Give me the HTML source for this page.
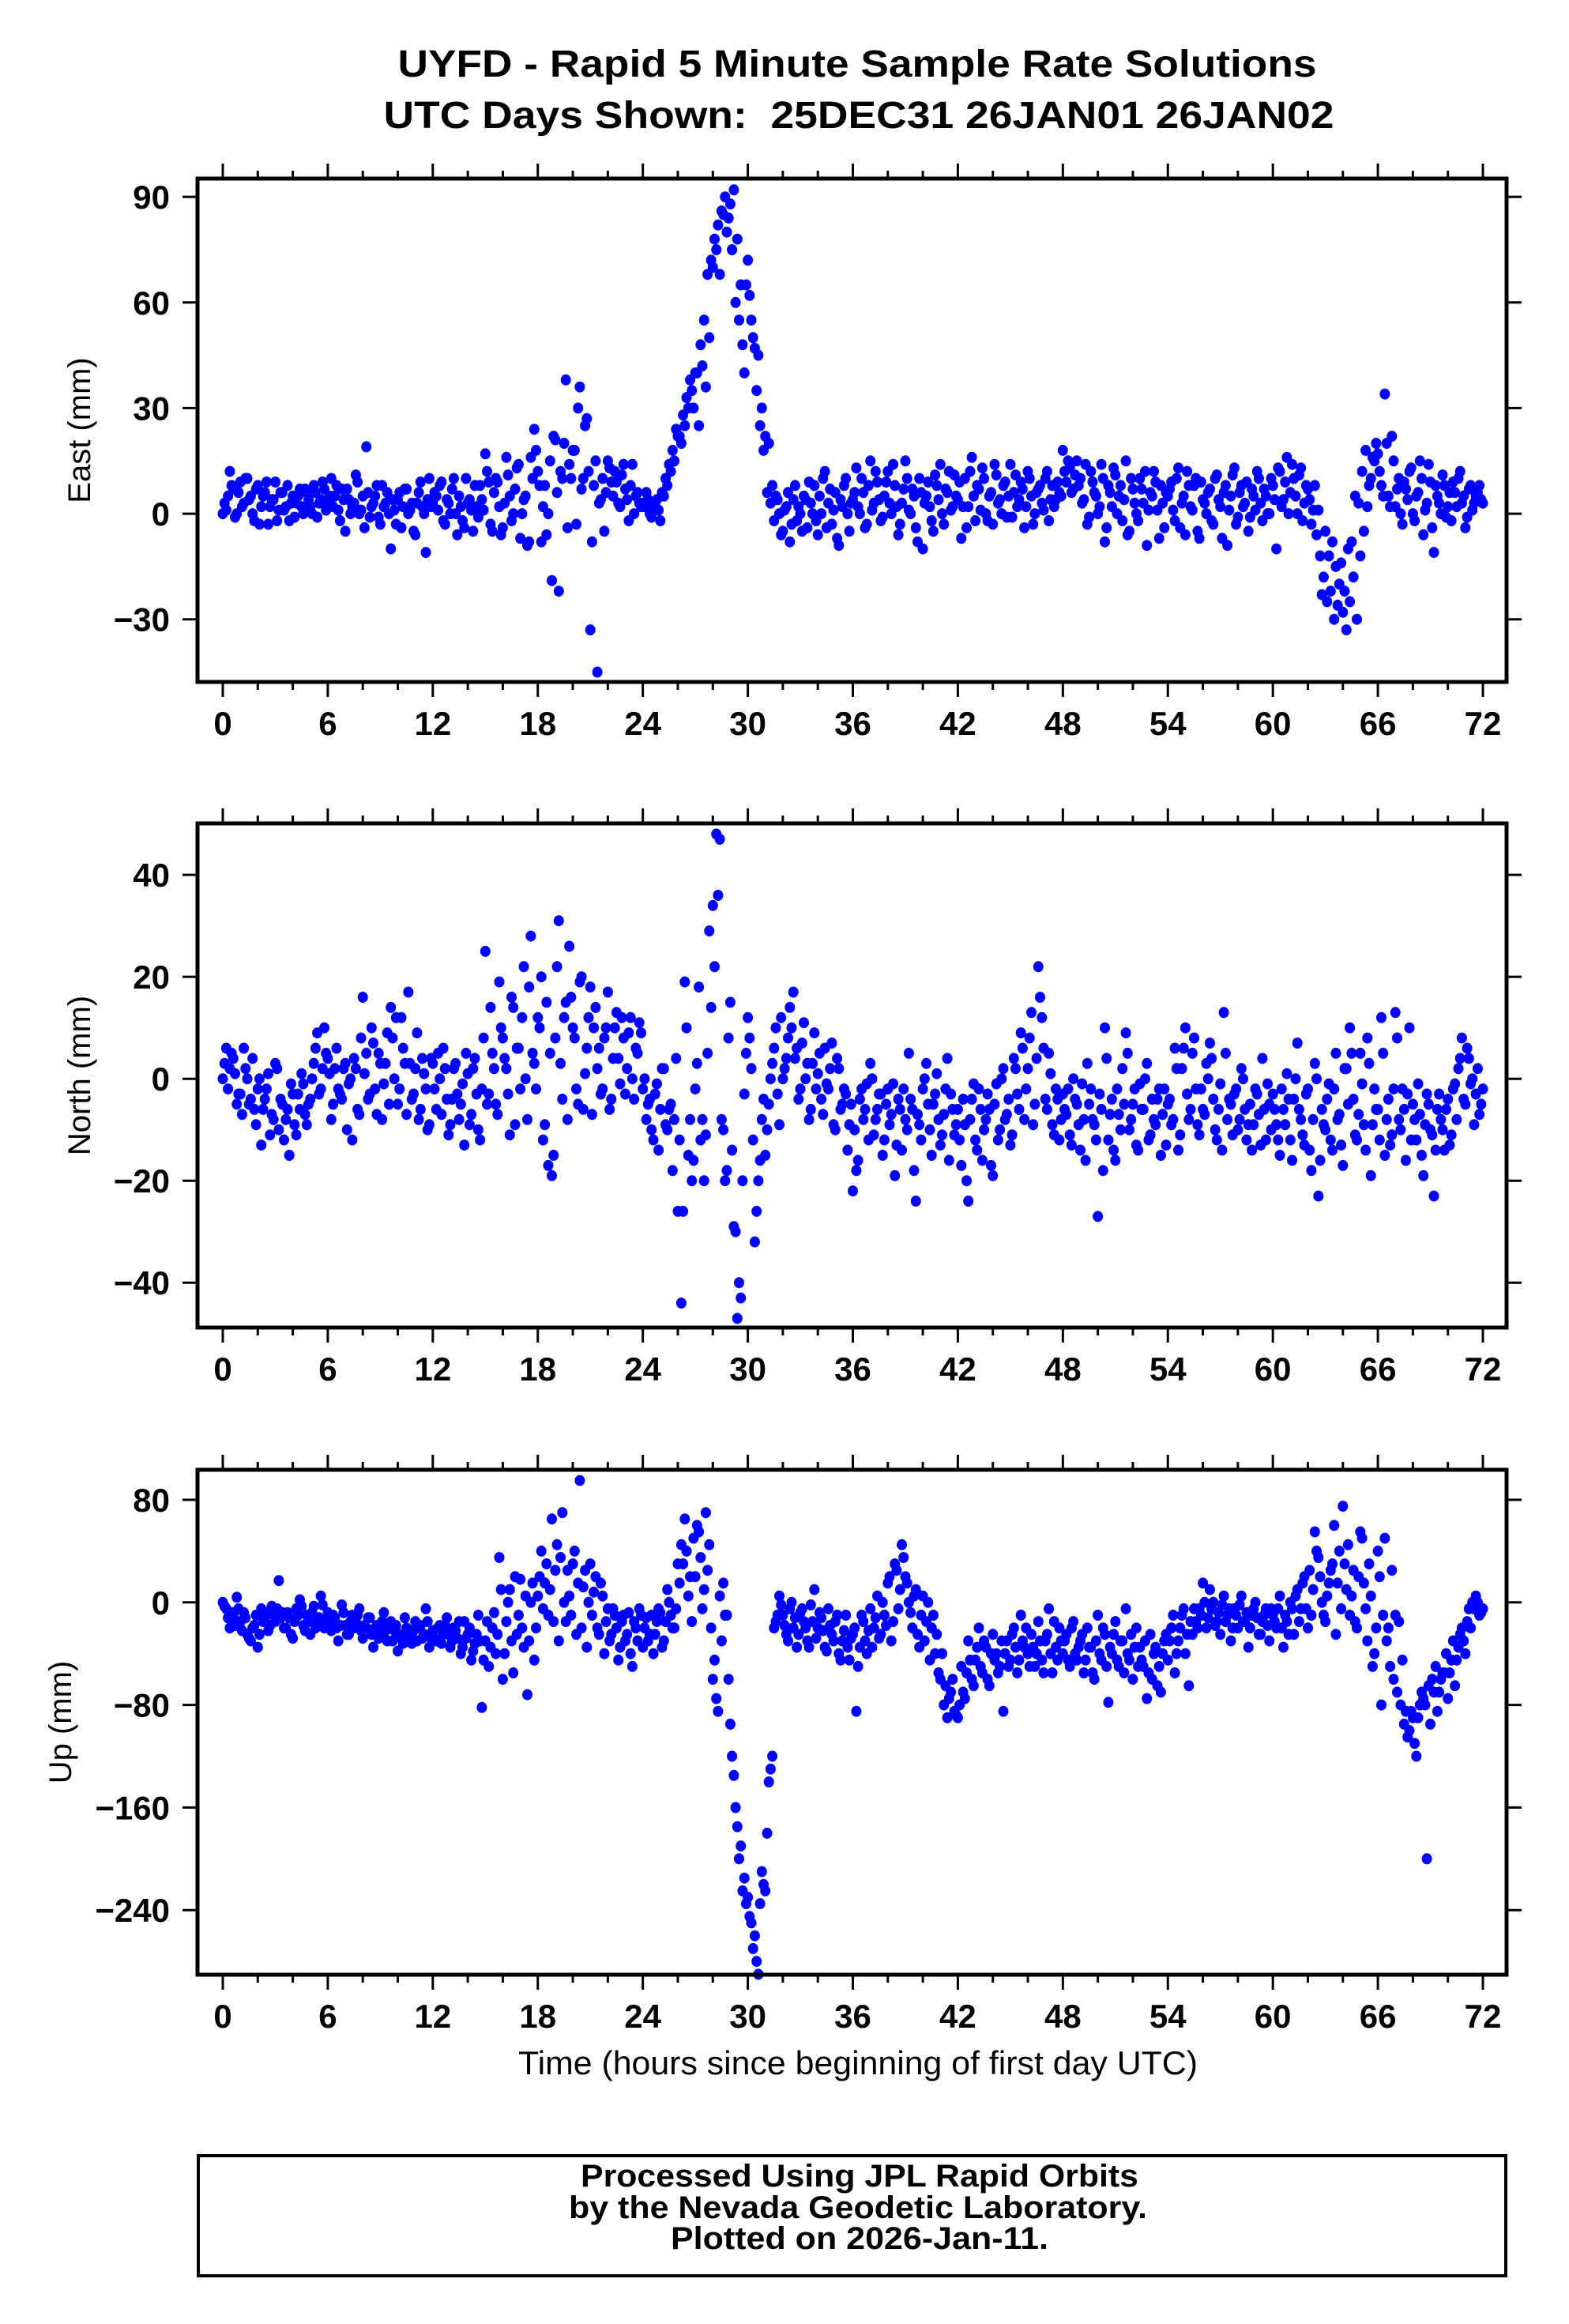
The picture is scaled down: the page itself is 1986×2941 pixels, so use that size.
<!DOCTYPE html>
<html><head><meta charset="utf-8"><style>
html,body{margin:0;padding:0;background:#fff;}
svg{display:block;font-family:"Liberation Sans",Arial,sans-serif;}
</style></head><body>
<svg id="fig" width="1986" height="2941" viewBox="0 0 1986 2941" xmlns="http://www.w3.org/2000/svg">
<rect x="0" y="0" width="1986" height="2941" fill="#fff"/>
<text x="1085" y="97" font-size="48" font-weight="bold" text-anchor="middle" textLength="1163" lengthAdjust="spacingAndGlyphs">UYFD - Rapid 5 Minute Sample Rate Solutions</text>
<text x="1087" y="162" font-size="48" font-weight="bold" text-anchor="middle" textLength="1203" lengthAdjust="spacingAndGlyphs" xml:space="preserve">UTC Days Shown:  25DEC31 26JAN01 26JAN02</text>
<text x="1086" y="2625" font-size="42" text-anchor="middle" textLength="860" lengthAdjust="spacingAndGlyphs">Time (hours since beginning of first day UTC)</text>
<rect x="251" y="2728" width="1655" height="152" fill="none" stroke="#000" stroke-width="4"/>
<text x="1088" y="2767" font-size="40" font-weight="bold" text-anchor="middle" textLength="706" lengthAdjust="spacingAndGlyphs">Processed Using JPL Rapid Orbits</text>
<text x="1086" y="2807" font-size="40" font-weight="bold" text-anchor="middle" textLength="732" lengthAdjust="spacingAndGlyphs">by the Nevada Geodetic Laboratory.</text>
<text x="1088" y="2846" font-size="40" font-weight="bold" text-anchor="middle" textLength="478" lengthAdjust="spacingAndGlyphs">Plotted on 2026-Jan-11.</text>
</svg>
<script>
const hourStep = 0.2;
const eastValues = [
0,1,12,7,0,9,3,10,5,-2,8,2,6,-3,4,9,1,6,2,-2,5,3,7,0,6,2,8,-1,4,7,
3,10,5,1,7,-5,4,2,11,0,5,19,-1,3,8,-3,2,6,-10,1,4,-4,7,0,3,-6,6,2,-11,10,
3,5,8,-2,4,0,10,-6,2,-4,3,1,8,-1,4,17,9,-5,10,2,-4,16,5,0,13,-7,4,-9,16,24,
12,-8,8,0,-19,21,-22,10,38,14,18,-3,36,10,27,-33,8,-45,4,-5,15,9,12,3,11,7,-2,14,5,3,
3,6,0,2,4,-2,5,8,12,15,22,20,25,30,35,40,25,42,36,50,70,75,68,85,80,88,92,78,65,40,
72,55,47,45,30,22,20,8,5,0,-5,2,-8,4,-2,0,5,-4,3,8,-6,0,12,3,-3,6,-9,2,10,-5,
4,13,0,6,-3,15,3,9,-2,5,12,0,8,-6,3,15,1,7,-4,10,-10,5,2,-5,8,14,-3,6,1,11,
4,-7,10,2,16,-2,7,13,0,5,-3,11,4,8,-1,14,6,2,9,-4,12,5,0,7,3,10,-2,8,4,6,
18,9,13,7,15,10,4,-3,12,6,0,14,-8,8,2,11,5,-2,15,-5,7,0,10,3,-9,6,12,1,8,-4,
5,9,-2,13,3,-6,8,1,10,-7,4,0,7,-3,11,2,6,-9,5,13,-1,8,3,-5,7,1,10,-2,5,0,
8,-10,12,4,16,6,10,0,13,3,7,-3,8,1,-23,-5,-12,-8,-15,-20,-28,-33,-25,-18,-30,-12,-5,2,10,15,
17,8,34,5,22,2,10,-3,7,12,0,5,15,-6,3,9,-11,5,0,8,2,-2,6,10,3,-4,7,1,5,8,3];
const eastValuesHalf = [
3,5,8,-1,6,2,10,4,0,7,-3,5,9,2,4,-2,6,1,8,3,-1,5,2,7,4,0,6,3,9,1,
5,2,8,-2,4,7,0,3,9,1,-4,6,2,5,-1,8,3,0,4,-3,6,2,7,1,-5,3,9,0,4,2,
6,1,9,-3,3,7,0,5,-2,10,4,-5,2,8,1,12,-3,6,9,-6,3,11,-2,7,14,0,5,-8,10,18,
8,2,-6,15,22,6,12,20,-4,10,18,30,7,25,12,-8,15,3,10,6,13,5,9,2,14,4,8,0,6,2,
2,4,-1,3,1,6,10,14,18,24,22,28,33,38,30,40,48,55,68,72,78,82,86,90,84,75,60,55,48,65,
62,50,35,25,18,6,3,-2,4,-6,1,6,-3,8,2,-5,4,9,0,-2,5,10,-4,7,1,-7,4,8,0,3,
6,2,10,-4,8,1,12,4,-1,9,3,14,2,-3,7,10,0,5,-8,6,3,9,-2,11,4,0,7,12,2,5,
9,2,-4,12,5,8,1,10,-2,6,14,3,0,9,5,-1,11,4,7,2,10,-3,6,8,1,12,4,2,9,5,
12,15,6,11,8,3,14,-1,9,5,2,10,-4,6,13,0,8,4,-6,10,3,-2,7,12,1,5,9,-7,3,6,
7,1,10,-4,5,12,2,8,-5,9,3,6,-2,10,4,-7,8,1,11,-3,6,2,9,-1,5,12,3,7,0,10,
4,13,2,9,0,14,5,11,-2,8,4,1,-6,-12,-18,-25,-22,-30,-26,-14,-22,-10,-8,5,3,12,18,8,16,20,
12,5,20,2,15,7,0,9,4,13,-2,6,10,1,14,-4,8,3,11,-1,6,9,2,12,5,-1,8,3,6,4];
const northValues = [
0,6,2,4,-5,-3,6,0,-4,-6,-2,-13,-4,1,-7,3,-10,-5,-8,-15,-3,-11,-6,-1,-9,-4,3,9,-2,10,
4,-8,2,-2,-4,3,-1,-12,2,-7,16,5,-3,7,-7,3,-1,9,14,0,-5,12,3,17,-4,2,-8,4,-2,-9,
3,-6,0,6,-4,-9,2,-3,-5,-13,1,-7,4,-10,-2,25,-3,5,-5,19,8,2,-11,14,6,-2,22,-8,28,3,
12,20,-9,-17,-19,8,31,-4,15,26,10,-2,19,-6,6,18,10,2,-3,8,17,-4,10,4,12,-3,9,0,6,11,
-2,-8,-4,-12,-1,-6,2,-10,-5,-8,-26,-44,19,-15,-20,-2,18,-8,-11,29,34,48,47,-10,-18,15,-29,-47,-43,-3,
12,2,-32,-20,-8,-15,-5,3,10,-9,0,4,14,17,6,-2,11,3,-6,9,1,-4,6,-2,7,-10,2,-5,-3,-9,
-22,-18,-4,-8,-1,3,-11,-6,-3,-12,-2,-7,-19,-4,-14,-8,5,-6,-24,-9,-2,3,-10,-5,1,-13,-7,4,-3,-11,
-6,-17,-9,-24,-4,-12,-2,-16,-8,-6,-19,-1,-10,2,-7,-13,4,-3,9,-8,2,13,-5,22,12,-4,5,-9,-2,-12,
-3,-7,-11,0,-5,-14,-8,3,-2,-9,-27,-6,10,-12,-4,-16,-7,2,9,-10,-5,-13,-1,-6,3,-11,-8,-4,-15,-2,
-5,-9,6,-14,2,10,-8,5,-2,-11,-6,3,7,-4,-12,-1,13,-8,-5,-3,-10,2,-6,-9,-14,-2,-7,4,-12,-5,
-3,-9,-15,-6,1,-12,-4,7,-8,-13,-2,-18,3,-23,-6,-10,-1,-14,5,-7,-17,2,10,-4,-12,5,-9,8,-19,-2,
-6,12,-15,-4,-11,13,-8,-2,-16,10,-5,-12,-7,-19,-3,-10,-23,-6,-8,-14,-4,-11,-1,2,8,-5,4,0,-3,-7,-2];
const northValuesHalf = [
3,-2,5,1,-3,-7,2,-5,4,-9,0,-6,-2,-11,-8,2,-4,-12,-6,-1,-9,-3,1,-7,-5,0,6,-3,2,5,
1,-5,6,-3,2,-10,0,4,-6,8,1,-4,10,-2,5,-8,3,-5,8,12,-2,6,-7,3,-3,9,-6,1,-10,4,
-2,5,-7,2,-11,-4,3,-8,-1,5,-9,2,-3,-12,8,-5,14,2,-7,10,4,-3,16,-9,6,12,0,18,5,-2,
10,-12,15,5,-15,22,3,12,-8,16,8,-5,20,1,12,-7,14,6,-2,10,-6,4,13,-1,8,2,12,-4,5,9,
0,-5,-10,-3,-14,2,-9,-6,-18,4,-12,-26,10,-8,-16,3,-12,-20,5,14,22,36,-8,-20,8,-14,-30,-40,-20,5,
8,-12,-26,-16,-4,-10,0,6,-3,12,2,8,10,4,-4,7,0,-8,3,-2,5,-7,-1,2,-9,4,-6,-2,-14,-5,
-10,-16,-2,-6,-12,0,-8,-3,-15,-5,-9,-1,-13,-6,-2,-10,-4,-18,-7,-12,0,-5,-15,-3,-8,-11,-2,-16,-6,-9,
-12,-4,-20,-8,-1,-14,-6,-10,-3,-17,-5,-12,0,-8,-4,-11,2,-6,6,-2,8,-9,4,16,6,-6,1,-11,-4,-8,
-6,-2,-13,-4,-9,-1,-16,-5,-8,-12,-3,-18,4,-7,-14,-2,-10,-5,5,-8,-2,-14,-6,0,-12,-4,-9,-2,-7,-13,
-4,-8,2,-11,6,-3,-6,8,-9,-2,-7,0,4,-10,-6,-14,5,-4,-11,-2,-8,0,-12,-5,-9,-3,-13,-6,-1,-10,
-6,-12,-2,-9,-4,-16,0,-6,-11,-3,-14,-8,0,-16,-9,-4,-12,-2,-8,-13,2,-5,5,-11,-7,-1,-14,3,-9,-6,
-12,5,-8,-13,-2,8,-10,-6,-3,-12,-8,-1,-15,-9,-5,-11,-14,-3,-10,-6,-13,-2,-8,4,-4,6,-1,-9,2,-5];
const upValues = [
0,-5,-20,-10,4,-15,-8,-25,-30,-18,-35,-5,-12,-22,-3,-15,17,-8,-20,-12,-28,-5,2,-18,-10,-25,-3,-15,5,-20,
-8,-22,-12,-30,-2,-18,-25,-10,-15,-5,-28,-20,-12,-35,-18,-25,-8,-30,-15,-22,-38,-28,-12,-25,-32,-15,-20,-28,-5,-35,
-22,-30,-18,-25,-12,-35,-20,-28,-40,-15,-25,-45,-32,-10,-82,-30,-50,-20,-40,35,-60,-15,10,-55,-25,18,-35,-72,0,-45,
5,40,15,-10,65,25,-30,70,-15,5,30,-25,95,12,-35,30,8,-20,15,-40,-5,-25,-10,-45,-15,-30,-8,-50,-20,-5,
-35,-12,-25,-40,-15,-8,-30,10,-10,-20,30,45,65,5,-15,20,55,-5,70,45,-60,-75,5,15,-10,-95,-135,-175,-190,-215,
-230,-250,-260,-290,-210,-225,-140,-120,-15,5,-10,-25,-5,-20,-35,-8,-15,-30,-2,10,-20,-12,-35,-5,-25,-15,-40,-30,-10,-45,
-25,-85,-35,-15,-40,-5,-20,5,-25,-10,15,-30,30,-5,45,20,0,-20,10,-35,5,-15,-45,-10,-25,-60,-80,-90,-70,-85,
-90,-50,-75,-30,-60,-45,-20,-55,-35,-65,-25,-40,-50,-85,-30,-45,-20,-55,-10,-35,-40,-25,-50,-15,-45,-30,-5,-55,-35,-20,
-40,-25,-50,-15,-45,-30,-55,-20,-35,-60,-10,-45,-25,-78,-40,-15,-50,-30,-5,-45,-60,-20,-35,-50,-75,-25,-40,-65,-70,-30,
-45,-20,-55,-30,-10,-40,-65,-25,-15,-5,15,-20,10,0,-15,-25,5,-10,-30,-5,-20,5,-15,-35,-10,0,-25,-15,-5,-30,
-10,-20,5,-35,-15,0,-25,10,-5,20,-20,-10,55,35,0,-15,15,30,-25,40,75,10,-10,25,-20,55,15,-30,5,-40,
40,-80,50,-20,25,-10,-15,-45,-85,-100,-90,-120,-80,-75,-200,-95,-70,-85,-60,-55,-75,-45,-65,-35,-20,-40,-5,0,5,-10,-5];
const upValuesHalf = [
-3,-12,-8,-18,-5,-22,-12,-28,-20,-10,-25,-15,-8,-18,-10,-5,-12,-20,-8,-25,-15,-10,-3,-22,-15,-8,-20,-12,-2,-15,
-15,-10,-20,-18,-8,-25,-15,-20,-10,-22,-18,-12,-25,-20,-28,-15,-22,-20,-30,-18,-25,-32,-20,-28,-22,-30,-18,-25,-15,-28,
-28,-20,-32,-18,-25,-30,-22,-15,-35,-28,-20,-38,-25,-30,-45,-15,-35,-8,-25,10,-40,0,-30,20,-10,-20,5,-30,15,-20,
20,-5,30,10,-15,45,35,0,25,-10,40,15,-20,25,0,-10,20,-25,5,-15,-30,-5,-20,-35,-10,-25,-40,-15,-30,-10,
-20,-30,-10,-25,-5,-35,-15,0,-20,-5,15,30,40,20,50,60,35,10,25,-20,-45,-85,-30,-10,-60,-120,-160,-200,-225,-235,
-245,-270,-280,-235,-220,-180,-130,-20,-10,-2,-18,-30,0,-12,-25,-5,-20,-35,-15,-28,-8,-22,-38,-18,-30,-10,-45,-22,-35,-28,
-20,-50,-10,-30,-22,-35,-12,-28,0,-18,20,-15,25,10,35,15,-8,5,-25,-10,-30,0,-20,-40,-55,-40,-65,-75,-60,-88,
-80,-70,-55,-45,-65,-35,-50,-30,-60,-40,-45,-55,-30,-40,-50,-25,-35,-45,-30,-20,-50,-35,-40,-30,-55,-25,-40,-15,-45,-30,
-30,-45,-20,-40,-35,-25,-45,-35,-55,-30,-40,-20,-50,-35,-25,-45,-30,-55,-40,-25,-35,-50,-45,-30,-55,-60,-35,-50,-40,-25,
-30,-10,-40,-20,-5,-25,-15,-5,-20,-10,0,-12,-5,-18,-8,-2,-15,-5,-20,-10,-2,-15,-8,-20,-5,-12,-25,-10,-18,-5,
-15,-5,-20,-10,-25,-5,5,-15,15,-5,25,10,40,20,-10,5,25,60,15,-5,30,45,5,-15,20,50,-5,30,-50,-20,
20,-10,-30,-50,-60,-70,-80,-95,-105,-85,-110,-90,-70,-80,-65,-60,-50,-70,-55,-40,-55,-30,-45,-25,-30,-15,-20,-5,0,-8];
const xTickLabels = [0,6,12,18,24,30,36,42,48,54,60,66,72];
const eastTicks = [90,60,30,0,-30];
const northTicks = [40,20,0,-20,-40];
const upTicks = [80,0,-80,-160,-240];

const NS = 'http://www.w3.org/2000/svg';
const svg = document.getElementById('fig');
const L = 250, R = 1907, X0 = 282, PXH = (1877 - 282) / 72;
function xs(h){ return X0 + h * PXH; }
function mk(tag, attrs, parent){ const e = document.createElementNS(NS, tag); for (const k in attrs) e.setAttribute(k, attrs[k]); (parent||svg).appendChild(e); return e; }

function panel(name, top, bottom, ymin, ymax, values, valuesHalf, ticks, label, labelX){
  const g = mk('g', {});
  
  
  const ys = v => bottom - (v - ymin) / (ymax - ymin) * (bottom - top);
  const pg = mk('g', {fill:'#0000ff'}, g);
  
  
  function dot(h, v){
    const c = mk('ellipse', {cx: xs(h).toFixed(1), cy: ys(v).toFixed(1), rx: 6.5, ry: 7}, pg);
    
    
  }
  values.forEach((v, i) => dot(i * hourStep, v));
  valuesHalf.forEach((v, i) => dot((i + 0.5) * hourStep, v));
  for (let h = 0; h <= 72; h += 2) {
    const major = h % 6 === 0;
    const len = major ? 19 : 10;
    mk('line', {x1: xs(h), x2: xs(h), y1: bottom, y2: bottom + len, stroke:'#000', 'stroke-width':3}, g);
    mk('line', {x1: xs(h), x2: xs(h), y1: top, y2: top - len, stroke:'#000', 'stroke-width':3}, g);
  }
  xTickLabels.forEach(t => {
    const tx = mk('text', {x: xs(t), y: bottom + 67, 'font-size': 42, 'font-weight':'bold', 'text-anchor':'middle'}, g);
    
    
    tx.textContent = String(t);
  });
  ticks.forEach(t => {
    const y = ys(t);
    mk('line', {x1: L - 19, x2: L, y1: y, y2: y, stroke:'#000', 'stroke-width':3}, g);
    mk('line', {x1: R, x2: R + 19, y1: y, y2: y, stroke:'#000', 'stroke-width':3}, g);
    const tx = mk('text', {x: 215, y: y + 15, 'font-size': 42, 'font-weight':'bold', 'text-anchor':'end'}, g);
    
    
    tx.textContent = t < 0 ? '\u2212' + Math.abs(t) : String(t);
  });
  const fr = mk('rect', {x: L, y: top, width: R - L, height: bottom - top, fill:'none', stroke:'#000', 'stroke-width':5}, g);
  
  
  const cy = (top + bottom) / 2;
  const yl = mk('text', {x: labelX, y: cy, 'font-size': 40, 'text-anchor':'middle', transform: 'rotate(-90 ' + labelX + ' ' + cy + ')'}, g);
  
  
  yl.textContent = label;
}
panel('east', 226, 863, -47.8, 95.2, eastValues, eastValuesHalf, eastTicks, 'East (mm)', 114);
panel('north', 1042, 1680, -48.8, 50.1, northValues, northValuesHalf, northTicks, 'North (mm)', 114);
panel('up', 1860, 2499, -290.4, 103.4, upValues, upValuesHalf, upTicks, 'Up (mm)', 90);
</script>
</body></html>
